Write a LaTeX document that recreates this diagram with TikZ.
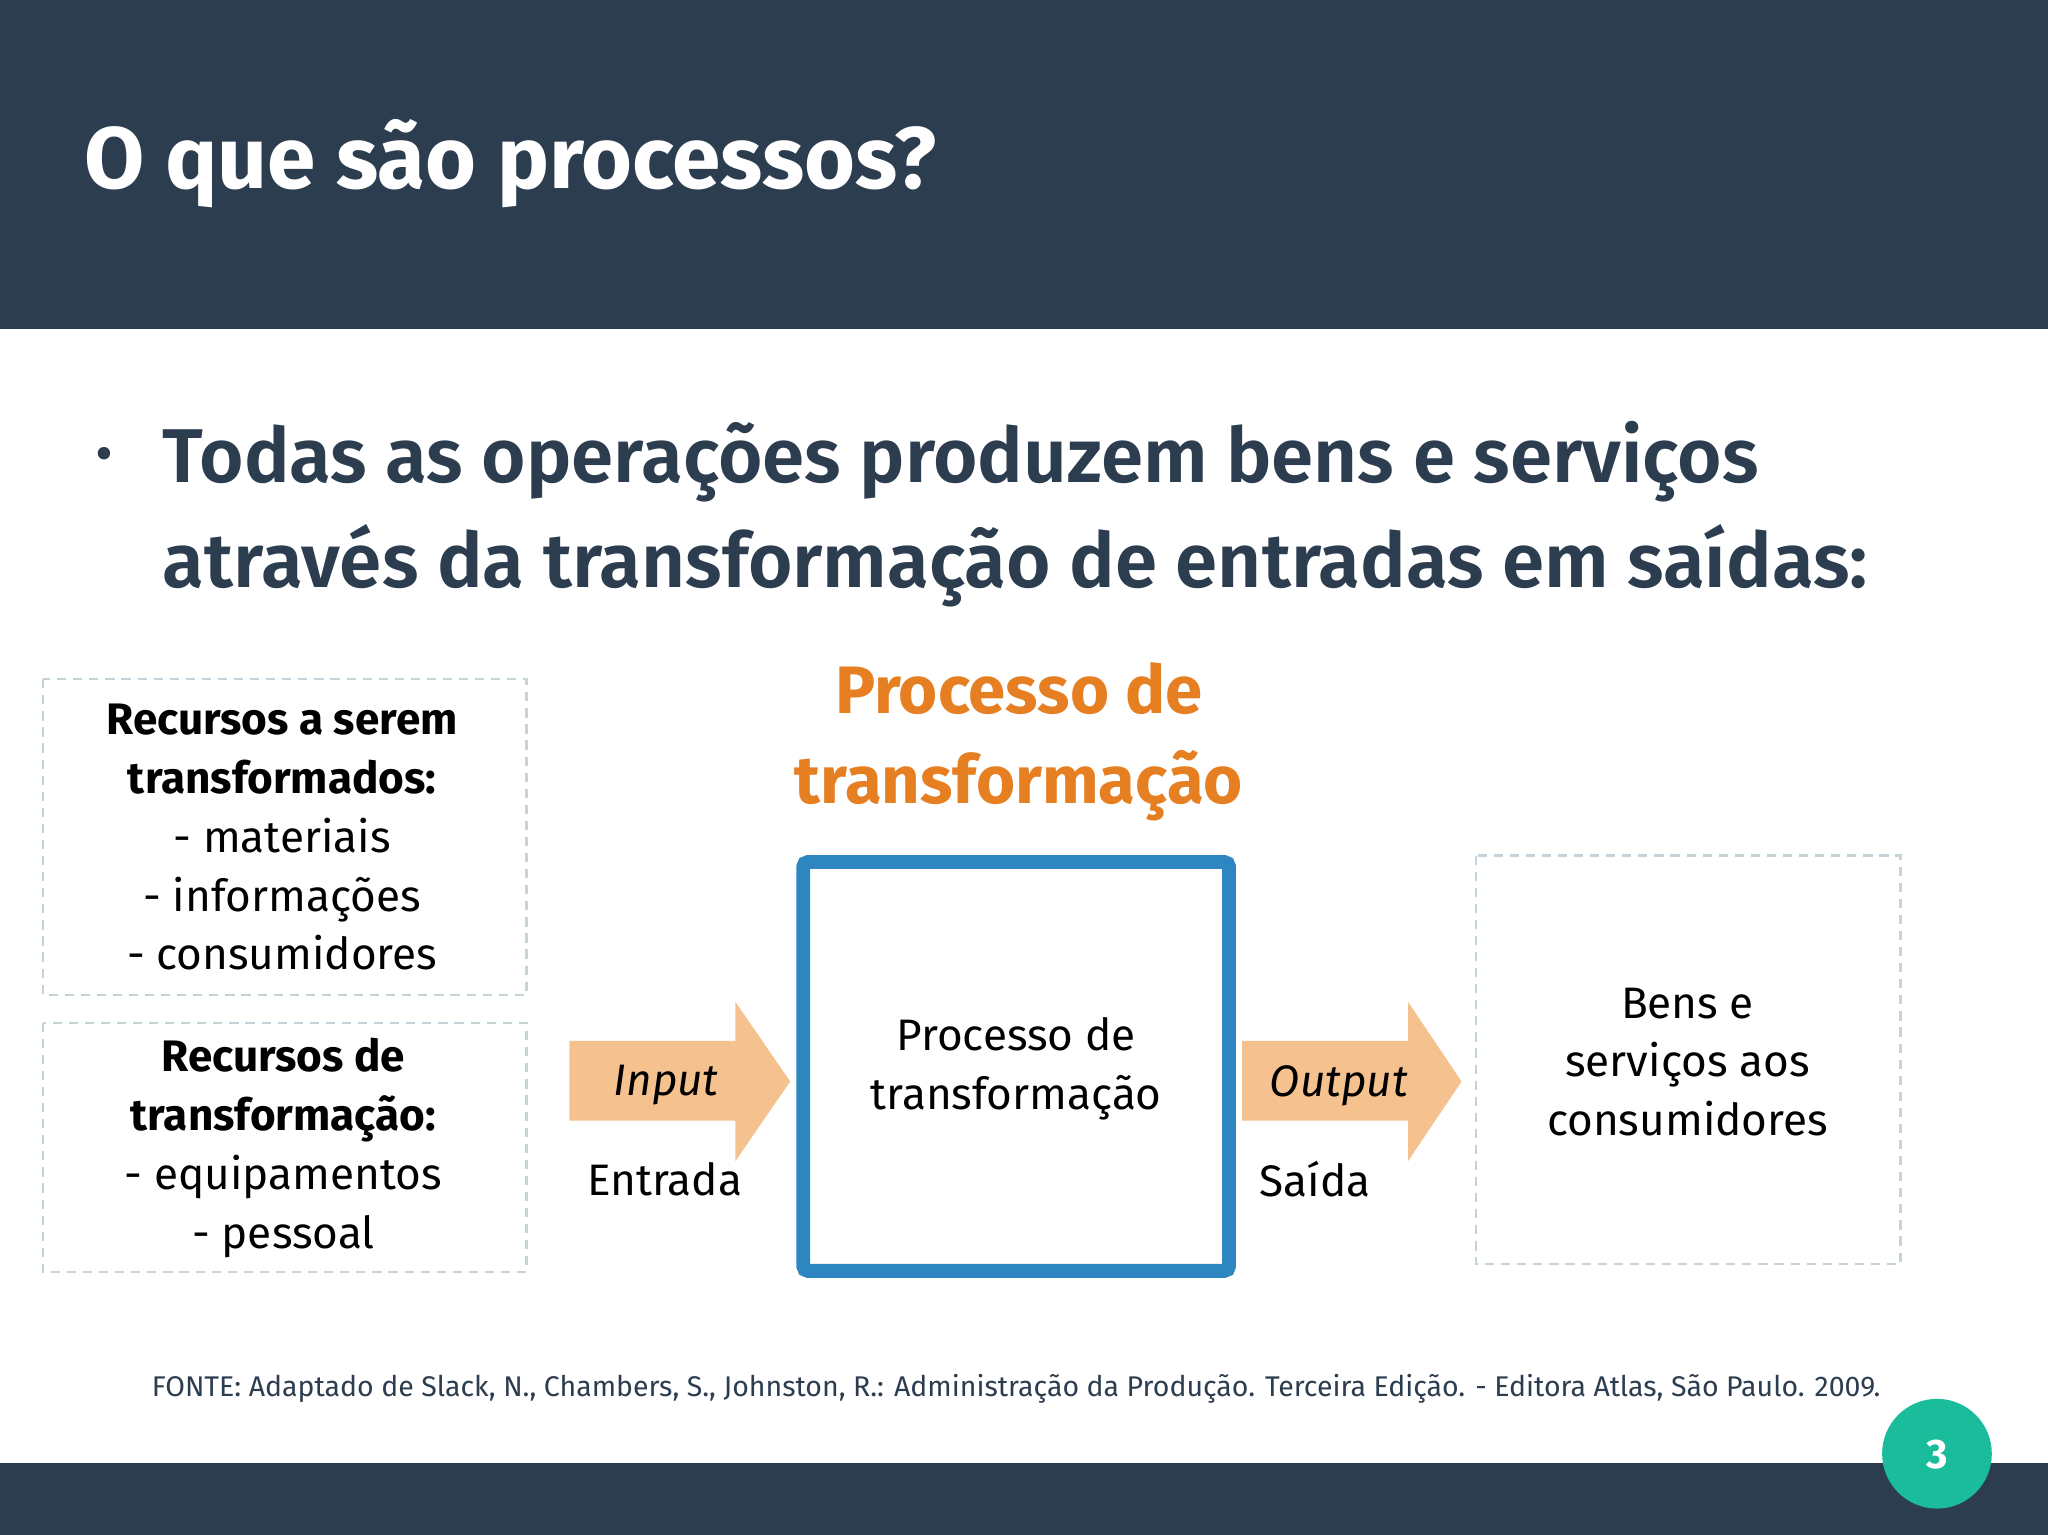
\documentclass[tikz,border=0pt]{standalone}
\usepackage{fontspec}
\setmainfont{Fira Sans}
\newfontfamily\semib{Fira Sans SemiBold}
\definecolor{navy}{HTML}{2D3D50}
\definecolor{orng}{HTML}{E67E22}
\definecolor{blu}{HTML}{2E86C1}
\definecolor{arr}{HTML}{F5C28F}
\definecolor{teal}{HTML}{1ABC9C}
\definecolor{dsh}{HTML}{C5D3DB}
\tikzset{
 dbox/.style={draw=dsh,dash pattern=on 2pt off 1.5pt,line width=0.5pt},
 boxtxt/.style={align=center,font=\fontsize{9.6}{12.8}\selectfont,text=black},
 blockarrow/.style={fill=arr,draw=none}
}
\begin{document}
\begin{tikzpicture}[x=0.01cm,y=-0.01cm]
\useasboundingbox (0,0) rectangle (1568,1175);
\fill[white] (0,0) rectangle (1568,1175);
\fill[navy] (0,0) rectangle (1568,252);
\fill[navy] (0,1120) rectangle (1568,1175);
\node[anchor=west,text=white,font=\fontsize{19}{22}\selectfont\bfseries] (title) at (52,125) {O que são processos?};
\node[text=navy,font=\fontsize{12}{12}\selectfont] (bul) at (80,352) {•};
\node[anchor=north west,align=left,text=navy,font=\fontsize{16.6}{22.8}\selectfont\semib,inner sep=0] (main) at (124,322) {Todas as operações produzem bens e serviços\\através da transformação de entradas em saídas:};
% boxes
\draw[dbox] (33,520) rectangle (403,762);
\node[boxtxt] (r1) at (216,641) {\textbf{Recursos a serem}\\\textbf{transformados:}\\- materiais\\- informações\\- consumidores};
\draw[dbox] (33,783) rectangle (403,974);
\node[boxtxt] (r2) at (217,879) {\textbf{Recursos de}\\\textbf{transformação:}\\- equipamentos\\- pessoal};
\node[align=center,text=orng,font=\fontsize{14.6}{19.5}\selectfont\bfseries] (pt) at (780,568) {Processo de\\transformação};
\draw[blu,line width=3pt,rounded corners=1pt] (615,660) rectangle (941,973);
\node[boxtxt] (proc) at (778,818) {Processo de\\transformação};
\draw[dbox] (1130,655) rectangle (1455,968);
\node[boxtxt] (bens) at (1292,813) {Bens e\\serviços aos\\consumidores};
% block arrows
\fill[blockarrow] (436,797) -- (563,797) -- (563,767) -- (605,828) -- (563,889) -- (563,858) -- (436,858) -- cycle;
\node[boxtxt,font=\fontsize{9.6}{12}\selectfont\itshape] (in) at (510,831) {Input};
\node[boxtxt] (ent) at (509,903) {Entrada};
\fill[blockarrow] (951,797) -- (1078,797) -- (1078,767) -- (1119,828) -- (1078,889) -- (1078,858) -- (951,858) -- cycle;
\node[boxtxt,font=\fontsize{9.6}{12}\selectfont\itshape] (out) at (1025,831) {Output};
\node[boxtxt] (sai) at (1007,903) {Saída};
\node[text=navy,font=\fontsize{6.2}{7}\selectfont] (fonte) at (778,1063) {FONTE: Adaptado de Slack, N., Chambers, S., Johnston, R.: Administração da Produção. Terceira Edição. - Editora Atlas, São Paulo. 2009.};
\fill[teal] (1483,1113) circle (42);
\node[text=white,font=\fontsize{9}{10}\selectfont\bfseries] (pg) at (1483,1114) {3};
\end{tikzpicture}
\end{document}
